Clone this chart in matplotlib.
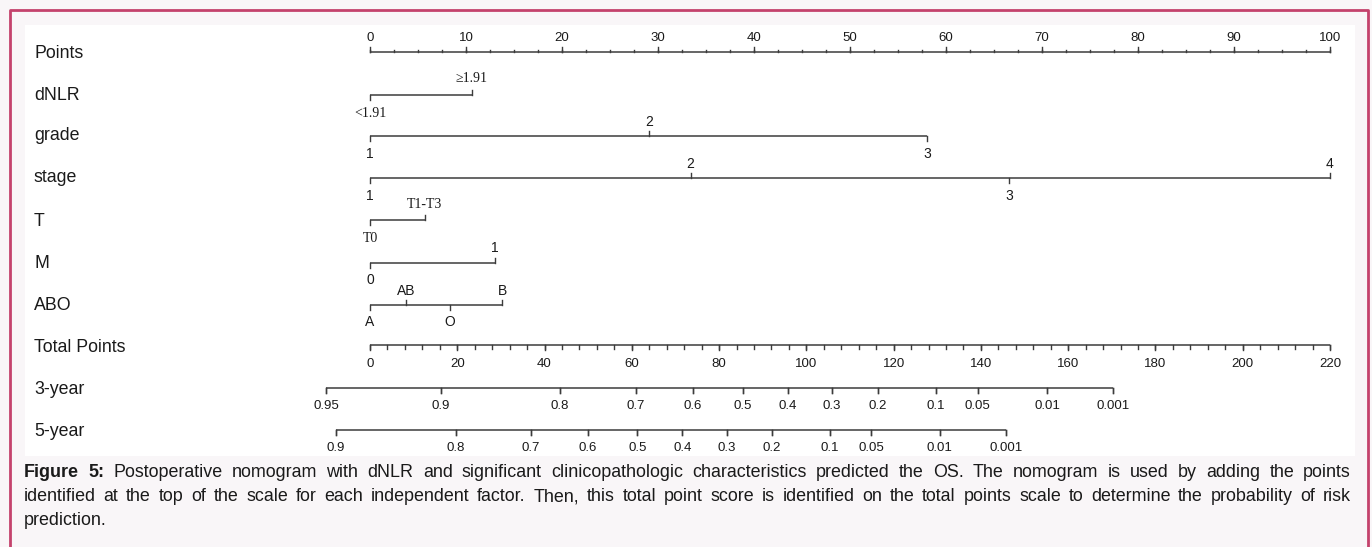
import matplotlib.pyplot as plt
from matplotlib.lines import Line2D
from matplotlib.transforms import blended_transform_factory
import numpy as np

# Nomogram data (points on the 0-100 scale)
points_ticks = np.arange(0, 101, 10)
points_minor = np.arange(0, 100.1, 2.5)

dnlr_labels = ['<1.91', '\u22651.91']
dnlr_points = [0, 10.6]
grade_labels = ['1', '2', '3']
grade_points = [0, 29.1, 58.0]
stage_labels = ['1', '2', '3', '4']
stage_points = [0, 33.4, 66.6, 100]
t_labels = ['T0', 'T1-T3']
t_points = [0, 5.7]
m_labels = ['0', '1']
m_points = [0, 13.0]
abo_labels = ['A', 'AB', 'O', 'B']
abo_points = [0, 3.8, 8.3, 13.8]

# Total points scale
total_max = 220
total_ticks = np.arange(0, 221, 20)
total_minor = np.arange(0, 220.1, 4)

# Survival probability scales (position given in total points)
surv3_labels = ['0.95', '0.9', '0.8', '0.7', '0.6', '0.5', '0.4', '0.3', '0.2',
                '0.1', '0.05', '0.01', '0.001']
surv3_total = [-10.1, 16.3, 43.5, 61.0, 74.0, 85.4, 95.8, 105.8, 116.4,
               129.6, 139.3, 155.2, 170.3]
surv5_labels = ['0.9', '0.8', '0.7', '0.6', '0.5', '0.4', '0.3', '0.2',
                '0.1', '0.05', '0.01', '0.001']
surv5_total = [-7.8, 19.7, 36.8, 49.9, 61.3, 71.6, 81.7, 92.1,
               105.4, 114.8, 130.6, 145.7]

caption = ("Figure 5: Postoperative nomogram with dNLR and significant clinicopathologic "
           "characteristics predicted the OS. The nomogram is used by adding the points|"
           "identified at the top of the scale for each independent factor. Then, this total "
           "point score is identified on the total points scale to determine the probability of risk|"
           "prediction.")

W, H = 1372, 547
SANS = 'Liberation Sans'
SERIF = 'Liberation Serif'
LC = '#3c3c3c'
TC = '#1a1a1a'

fig = plt.figure(figsize=(W / 100, H / 100), dpi=100, facecolor='#f9f6f8')
ax = fig.add_axes([25 / W, (H - 456) / H, 1330 / W, 431 / H])
ax.set_facecolor('white')
ax.set_xlim((25 - 370) / 9.6, (1355 - 370) / 9.6)
ax.set_ylim(456, 25)
ax.set_xticks([])
ax.set_yticks([])
for s in ax.spines.values():
    s.set_visible(False)


def tp(v):
    # total points -> points axis
    return np.asarray(v, dtype=float) * 100 / total_max


def scale_axis(y, major, minor, labels, up, lab_off, maj_len=5, min_len=2.5, size=9.5):
    d = -1 if up else 1
    ax.plot([min(major.min(), minor.min()), max(major.max(), minor.max())], [y, y],
            color=LC, lw=1.1, solid_capstyle='butt')
    for m in minor:
        ax.plot([m, m], [y, y + d * min_len], color=LC, lw=1)
    for m, lab in zip(major, labels):
        ax.plot([m, m], [y, y + d * maj_len], color=LC, lw=1)
        ax.text(m, y + d * lab_off, lab, ha='center', va='bottom' if up else 'top',
                fontsize=size, family=SANS, color=TC)


def factor(y, pts, labels, family=SANS, size=10):
    ax.plot([min(pts), max(pts)], [y, y], color=LC, lw=1.1, solid_capstyle='butt')
    order = np.argsort(pts)
    for k, i in enumerate(order):
        up = k % 2 == 1
        d = -1 if up else 1
        ax.plot([pts[i], pts[i]], [y, y + d * 5], color=LC, lw=1)
        off = 7 if up else 10.5
        if family == SERIF:
            off += 2
        ax.text(pts[i], y + d * off, labels[i], ha='center',
                va='bottom' if up else 'top', fontsize=size, family=family, color=TC)


# Row titles
rows = [('Points', 53), ('dNLR', 96), ('grade', 136), ('stage', 178), ('T', 221),
        ('M', 263), ('ABO', 306), ('Total Points', 348), ('3-year', 389), ('5-year', 431)]
row_tr = blended_transform_factory(ax.transAxes, ax.transData)
for name, y in rows:
    ax.text((34 - 25) / 1330, y, name, transform=row_tr,
            ha='left', va='center', fontsize=12.8, family=SANS, color=TC)

scale_axis(52, points_ticks, points_minor, [str(v) for v in points_ticks], up=True,
           lab_off=8, maj_len=5.5, min_len=2)
factor(94.5, dnlr_points, dnlr_labels, family=SERIF, size=10)
factor(136, grade_points, grade_labels)
factor(178, stage_points, stage_labels)
factor(220, t_points, t_labels, family=SERIF, size=10)
factor(262.5, m_points, m_labels)
factor(305, abo_points, abo_labels)
scale_axis(345, tp(total_ticks), tp(total_minor), [str(v) for v in total_ticks], up=False,
           lab_off=13, maj_len=5, min_len=3.5)
scale_axis(387.5, tp(surv3_total), tp(surv3_total), surv3_labels, up=False,
           lab_off=12.5, maj_len=5.5, min_len=5.5)
scale_axis(429.5, tp(surv5_total), tp(surv5_total), surv5_labels, up=False,
           lab_off=12.5, maj_len=5.5, min_len=5.5)

# Border around the figure box (no bottom edge)
fig.add_artist(Line2D([9.5 / W, 9.5 / W, 1367.5 / W, 1367.5 / W],
                      [0, 1 - 9.5 / H, 1 - 9.5 / H, 0],
                      transform=fig.transFigure, color='#c4426c', lw=2))

# Justified caption
renderer = fig.canvas.get_renderer()
x0, x1 = 24, 1351
lines = caption.split('|')
for n, line in enumerate(lines):
    words = line.split(' ')
    base = 477 + 24 * n
    arts = []
    for i, w in enumerate(words):
        bold = n == 0 and i < 2
        t = fig.text(0, 1 - base / H, w, fontsize=12.9, family=SANS, color=TC,
                     fontweight='bold' if bold else 'normal', va='baseline')
        arts.append(t)
    widths = [a.get_window_extent(renderer).width for a in arts]
    if n < len(lines) - 1:
        gap = (x1 - x0 - sum(widths)) / (len(words) - 1)
    else:
        gap = 3.9
    x = x0
    for a, w in zip(arts, widths):
        a.set_x(x / W)
        x += w + gap

fig.savefig('out.png', dpi=100, facecolor=fig.get_facecolor())
